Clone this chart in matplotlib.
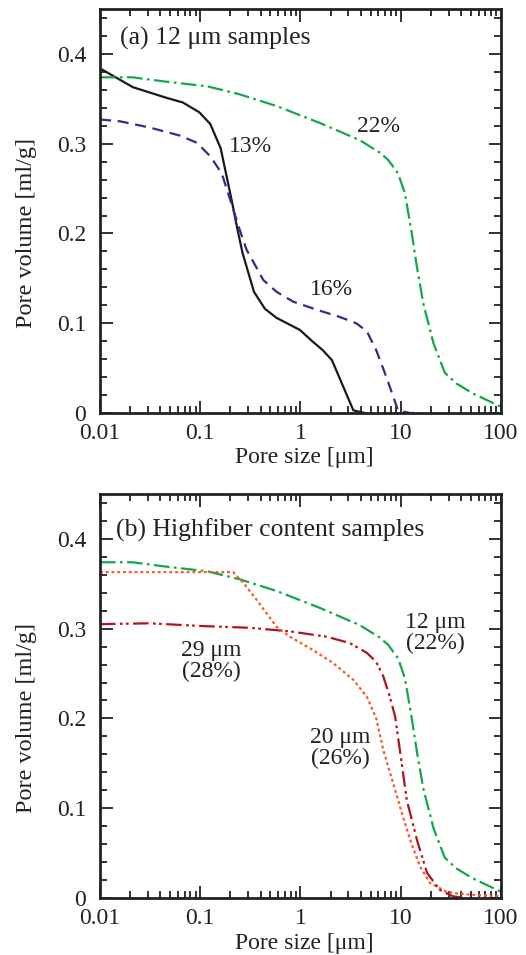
import matplotlib.pyplot as plt
from matplotlib.ticker import LogLocator, MultipleLocator, FixedFormatter, FixedLocator

plt.rcParams['font.family'] = ['Liberation Serif', 'DejaVu Serif']

# 12 um, 13 %
x13 = [0.01, 0.0213, 0.0465, 0.067, 0.098, 0.126, 0.16, 0.206, 0.238, 0.265, 0.344,
       0.443, 0.578, 0.99, 1.28, 1.67, 2.06, 3.37, 4.4]
y13 = [0.384, 0.363, 0.351, 0.346, 0.335, 0.322, 0.295, 0.237, 0.202, 0.178, 0.135,
       0.116, 0.106, 0.0925, 0.081, 0.070, 0.059, 0.003, 0.0]

# 12 um, 16 %
x16 = [0.01, 0.0158, 0.0315, 0.063, 0.093, 0.126, 0.164, 0.248, 0.29, 0.427, 0.578,
       0.85, 1.46, 2.47, 3.6, 4.6, 5.7, 7.2, 9.4, 12.4, 16.0]
y16 = [0.327, 0.325, 0.318, 0.309, 0.301, 0.286, 0.267, 0.204, 0.182, 0.148, 0.135,
       0.124, 0.115, 0.107, 0.100, 0.091, 0.070, 0.040, 0.003, 0.0, 0.0]

# 12 um, 22 %
x22 = [0.01, 0.021, 0.0466, 0.117, 0.248, 0.578, 1.57, 3.9, 6.2, 7.5, 9.4, 11.0,
       12.9, 14.5, 16.8, 21.2, 27.5, 35.8, 52.0, 100.0]
y22 = [0.374, 0.374, 0.369, 0.364, 0.355, 0.342, 0.323, 0.304, 0.290, 0.282, 0.267,
       0.245, 0.200, 0.163, 0.122, 0.078, 0.045, 0.033, 0.022, 0.007]

# 20 um, 26 %
x20 = [0.01, 0.1, 0.213, 0.27, 0.366, 0.46, 0.578, 0.787, 1.34, 2.1, 3.37, 4.6, 5.7,
       6.7, 8.4, 10.5, 12.4, 15.6, 19.5, 28.5, 37.0, 60.0, 100.0]
y20 = [0.363, 0.363, 0.363, 0.351, 0.332, 0.317, 0.302, 0.291, 0.276, 0.262, 0.243,
       0.224, 0.200, 0.165, 0.128, 0.091, 0.065, 0.035, 0.017, 0.007, 0.005, 0.003, 0.002]

# 29 um, 28 %
x29 = [0.01, 0.0315, 0.1, 0.31, 0.787, 1.83, 3.1, 4.6, 5.7, 6.7, 7.8, 8.8, 9.8, 11.5,
       14.5, 18.3, 24.6, 33.0, 42.0]
y29 = [0.305, 0.306, 0.303, 0.301, 0.297, 0.291, 0.284, 0.273, 0.263, 0.247, 0.224,
       0.202, 0.165, 0.109, 0.065, 0.028, 0.009, 0.002, 0.0]

x_ticks = [0.01, 0.1, 1, 10, 100]
x_tick_labels = ["0.01", "0.1", "1", "10", "100"]
y_ticks = [0, 0.1, 0.2, 0.3, 0.4]
y_tick_labels = ["0", "0.1", "0.2", "0.3", "0.4"]

c_text = '#222222'
c_black = '#1a1a1a'
c_blue = '#27318a'
c_green = '#13a64a'
c_red = '#b3131c'
c_orange = '#f85a2a'
fs = 17

fig = plt.figure(figsize=(5.26, 9.55), dpi=100)
ax1 = fig.add_axes([0.190, 0.5675, 0.7624, 0.4230])
ax2 = fig.add_axes([0.190, 0.0597, 0.7624, 0.4230])


def style(ax, xlab_y):
    ax.set_xscale('log')
    ax.set_xlim(0.01, 100)
    ax.set_ylim(0, 0.45)
    ax.xaxis.set_major_locator(FixedLocator(x_ticks))
    ax.xaxis.set_major_formatter(FixedFormatter(x_tick_labels))
    ax.xaxis.set_minor_locator(LogLocator(base=10, subs=range(2, 10), numticks=20))
    ax.yaxis.set_major_locator(FixedLocator(y_ticks))
    ax.yaxis.set_major_formatter(FixedFormatter(y_tick_labels))
    ax.yaxis.set_minor_locator(MultipleLocator(0.02))
    ax.tick_params(which='both', direction='in', top=True, right=True,
                   labelsize=fs, width=1.3, color=c_text, labelcolor=c_text)
    ax.tick_params(which='major', length=9)
    ax.tick_params(axis='x', which='major', pad=7)
    ax.tick_params(axis='y', which='major', pad=10)
    ax.tick_params(which='minor', length=5)
    for s in ax.spines.values():
        s.set_linewidth(2)
        s.set_color(c_text)
    ax.set_xlabel('Pore size [μm]', fontsize=fs, color=c_text)
    ax.set_ylabel('Pore volume [ml/g]', fontsize=fs + 0.5, color=c_text)
    ax.xaxis.label.set_va('center')
    ax.yaxis.label.set_va('center')
    ax.xaxis.set_label_coords(0.51, xlab_y)
    ax.yaxis.set_label_coords(-0.182, 0.445)


style(ax1, -0.11)
style(ax2, -0.112)

lw = 1.6
ax1.plot(x13, y13, color=c_black, lw=lw)
ax1.plot(x16, y16, color=c_blue, lw=lw, dashes=(5, 3))
ax1.plot(x22, y22, color=c_green, lw=lw, dashes=(7, 2, 1.2, 2))

ax1.text(0.0158, 0.417, '(a) 12 μm samples', fontsize=fs + 1.5, color=c_text, va='center')
ax1.text(0.316, 0.297, '13%', fontsize=fs, color=c_text, ha='center', va='center')
ax1.text(6.07, 0.319, '22%', fontsize=fs, color=c_text, ha='center', va='center')
ax1.text(2.06, 0.138, '16%', fontsize=fs, color=c_text, ha='center', va='center')

ax2.plot(x22, y22, color=c_green, lw=lw, dashes=(7, 2, 1.2, 2))
ax2.plot(x20, y20, color=c_orange, lw=lw, dashes=(1.3, 1.3))
ax2.plot(x29, y29, color=c_red, lw=lw, dashes=(7, 2, 1.2, 1.5, 1.2, 2))

ax2.text(0.0145, 0.41, '(b) Highfiber content samples', fontsize=fs + 1.5, color=c_text,
         va='center')
ax2.text(22.3, 0.295, '12 μm\n(22%)', fontsize=fs, color=c_text, ha='center', va='center',
         linespacing=0.95)
ax2.text(0.128, 0.264, '29 μm\n(28%)', fontsize=fs, color=c_text, ha='center', va='center',
         linespacing=0.95)
ax2.text(2.48, 0.167, '20 μm\n(26%)', fontsize=fs, color=c_text, ha='center', va='center',
         linespacing=0.95)

fig.savefig('out.png', dpi=100)
plt.close(fig)
